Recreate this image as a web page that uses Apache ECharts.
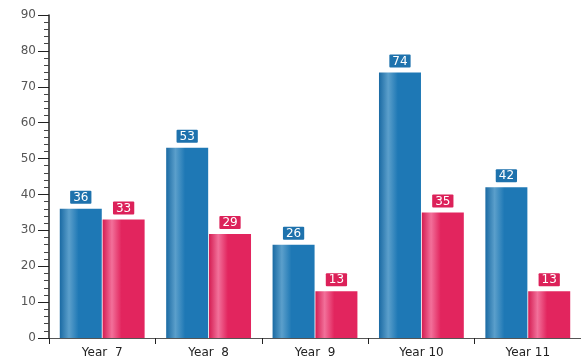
<!DOCTYPE html>
<html>
	<head>
		<meta charset="utf-8" />
		<title>Chart</title>
		<style type="text/css">
			body,
			html,
			#chart {
				width: 100%;
				height: 100%;
				overflow: hidden;
				margin: 0;
				background: #fff;
			}
		</style>
	</head>
	<body>
		<div id="chart"></div>
		<script src="https://cdn.jsdelivr.net/npm/echarts@6/dist/echarts.min.js"></script>
		<script>
			// data
			var categories = ['Year  7', 'Year  8', 'Year  9', 'Year 10', 'Year 11'];
			var blueValues = [36, 53, 26, 74, 42];
			var redValues = [33, 29, 13, 35, 13];
			var yTicks = [0, 10, 20, 30, 40, 50, 60, 70, 80, 90];

			var dom = document.getElementById('chart');
			var myChart = echarts.init(dom);

			function stripe(dark, light, mid) {
				return new echarts.graphic.LinearGradient(0, 0, 1, 0, [
					{ offset: 0, color: dark },
					{ offset: 0.22, color: light },
					{ offset: 0.45, color: mid },
					{ offset: 1, color: mid }
				]);
			}

			function barSeries(values, dark, light, mid, labelBg) {
				return {
					type: 'bar',
					data: values,
					barWidth: 42,
					barGap: '2%',
					itemStyle: { color: stripe(dark, light, mid) },
					label: {
						show: true,
						position: 'top',
						distance: 5,
						color: '#fff',
						fontSize: 12,
						fontFamily: 'DejaVu Sans',
						backgroundColor: labelBg,
						padding: [1, 3, 0, 3],
						borderRadius: 1
					}
				};
			}

			var option = {
				animation: false,
				grid: { left: 49, right: -3, top: 15, bottom: 26 },
				xAxis: {
					type: 'category',
					data: categories,
					axisLine: { lineStyle: { color: '#555', width: 1 } },
					axisTick: { show: true, length: 6, lineStyle: { color: '#222' } },
					axisLabel: { color: '#222', fontSize: 12, fontFamily: 'DejaVu Sans', margin: 9 }
				},
				yAxis: {
					type: 'value',
					min: yTicks[0],
					max: yTicks[yTicks.length - 1],
					interval: 10,
					splitLine: { show: false },
					axisLine: { show: true, lineStyle: { color: '#222', width: 1.5 } },
					axisTick: { show: true, length: 11, lineStyle: { color: '#222' } },
					minorTick: { show: true, splitNumber: 5, length: 5, lineStyle: { color: '#444' } },
					axisLabel: { color: '#555', fontSize: 12, fontFamily: 'DejaVu Sans', margin: 13 }
				},
				series: [
					barSeries(blueValues, '#1a6aa3', '#5b9fcb', '#1e78b5', '#1e72ad'),
					barSeries(redValues, '#d41d52', '#f2709a', '#e2255e', '#dc2159')
				]
			};
			myChart.setOption(option);
		</script>
	</body>
</html>
